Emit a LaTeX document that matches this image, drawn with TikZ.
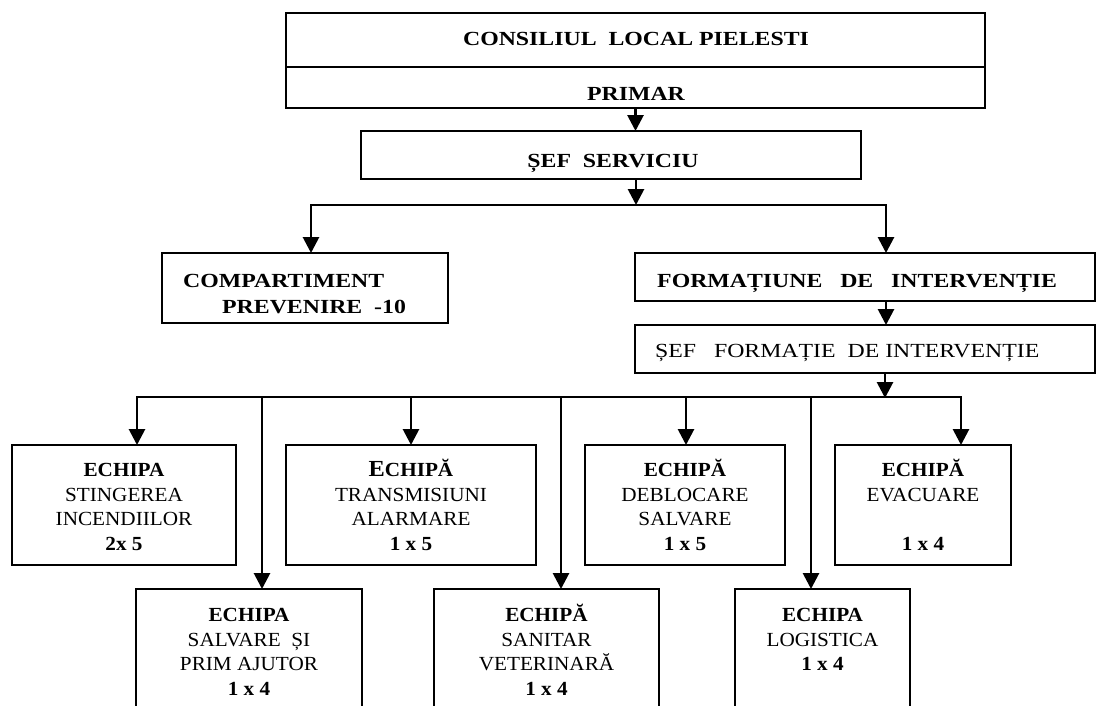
\documentclass[tikz,border=0pt]{standalone}
\usepackage{fontspec}
\setmainfont{Liberation Serif}[FakeStretch=1.06]
\newfontfamily\wideserif{Liberation Serif}[FakeStretch=1.19]
\usetikzlibrary{arrows.meta}
\newcommand\toprow{\vphantom{Ă}}
\begin{document}
\begin{tikzpicture}[x=1pt,y=-1pt,
  box/.style={draw, line width=2.8pt, inner sep=0pt, outer sep=0pt, anchor=north west, align=center, font=\fontsize{20}{24.5}\selectfont},
  toptext/.style={inner sep=0pt, font=\wideserif\bfseries\fontsize{20}{24}\selectfont},
  plaintop/.style={inner sep=0pt, font=\wideserif\fontsize{20}{24}\selectfont},
  arr/.style={line width=2.8pt, -{Triangle[length=16pt,width=16pt]}},
  bus/.style={line width=2.8pt, line cap=rect}]
\clip (0,0) rectangle (1097,705);
% top
\node[box, minimum width=699, minimum height=54] (council) at (286,13) {};
\node[toptext, anchor=base] (counciltxt) at (636,45) {CONSILIUL\ \ LOCAL PIELESTI};
\node[box, minimum width=699, minimum height=41] (primar) at (286,67) {};
\node[toptext, anchor=base] (primartxt) at (636,100) {PRIMAR};
\node[box, minimum width=500, minimum height=48] (serv) at (361,131) {};
\node[toptext, anchor=base] (servtxt) at (613,167) {ȘEF\ \ SERVICIU};
% second level
\node[box, minimum width=286, minimum height=70] (comp) at (162,253) {};
\node[toptext, anchor=base west] (comptxt1) at (183,287) {COMPARTIMENT};
\node[toptext, anchor=base west] (comptxt2) at (222,313) {PREVENIRE\ \ -10};
\node[box, minimum width=460, minimum height=48] (form) at (635,253) {};
\node[toptext, anchor=base west] (formtxt) at (657,287) {FORMAȚIUNE\ \ \ DE\ \ \ INTERVENȚIE};
\node[box, minimum width=460, minimum height=48] (sefform) at (635,325) {};
\node[plaintop, anchor=base west] (sefformtxt) at (655,357) {ȘEF\ \ \ FORMAȚIE\ \ DE INTERVENȚIE};
% teams row 1
\node[box, minimum width=224, minimum height=120] (stingere) at (12,445)
  {\toprow\textbf{ECHIPA}\\STINGEREA\\INCENDIILOR\\\textbf{2x 5}};
\node[box, minimum width=250, minimum height=120] (transm) at (286,445)
  {\toprow\textbf{{\fontsize{23}{24}\selectfont E}CHIPĂ}\\TRANSMISIUNI\\ALARMARE\\\textbf{1 x 5}};
\node[box, minimum width=200, minimum height=120] (debloc) at (585,445)
  {\toprow\textbf{ECHIPĂ}\\DEBLOCARE\\SALVARE\\\textbf{1 x 5}};
\node[box, minimum width=176, minimum height=120] (evac) at (835,445)
  {\toprow\textbf{ECHIPĂ}\\EVACUARE\\\vphantom{1}\\\textbf{1 x 4}};
% teams row 2
\node[box, minimum width=226, minimum height=122] (salv) at (136,589)
  {\toprow\textbf{ECHIPA}\\SALVARE\ \ ȘI\\PRIM AJUTOR\\\textbf{1 x 4}};
\node[box, minimum width=225, minimum height=122] (sanit) at (434,589)
  {\toprow\textbf{ECHIPĂ}\\SANITAR\\VETERINARĂ\\\textbf{1 x 4}};
\node[box, minimum width=175, minimum height=122] (logist) at (735,589)
  {\toprow\textbf{ECHIPA}\\LOGISTICA\\\textbf{1 x 4}\\\vphantom{1}};
% connectors top
\draw[arr] (primar.south) -- (primar.south |- serv.north);
\coordinate (j1) at (636,205);
\coordinate (bL) at (311,205);
\coordinate (bR) at (886,205);
\draw[bus] (bL) -- (bR);
\draw[arr] (serv.south -| j1) -- (j1);
\draw[arr] (bL) -- (bL |- comp.north);
\draw[arr] (bR) -- (bR |- form.north);
\draw[arr] (form.south -| bR) -- (bR |- sefform.north);
% connectors bottom
\coordinate (j2) at (885,398);
\coordinate (k1) at (137,397);
\coordinate (k2) at (262,397);
\coordinate (k3) at (411,397);
\coordinate (k4) at (561,397);
\coordinate (k5) at (686,397);
\coordinate (k6) at (811,397);
\coordinate (k7) at (961,397);
\draw[bus] (k1) -- (k7);
\draw[arr] (sefform.south -| j2) -- (j2);
\draw[arr] (k1) -- (k1 |- stingere.north);
\draw[arr] (k2) -- (k2 |- salv.north);
\draw[arr] (k3) -- (k3 |- transm.north);
\draw[arr] (k4) -- (k4 |- sanit.north);
\draw[arr] (k5) -- (k5 |- debloc.north);
\draw[arr] (k6) -- (k6 |- logist.north);
\draw[arr] (k7) -- (k7 |- evac.north);
\end{tikzpicture}
\end{document}
